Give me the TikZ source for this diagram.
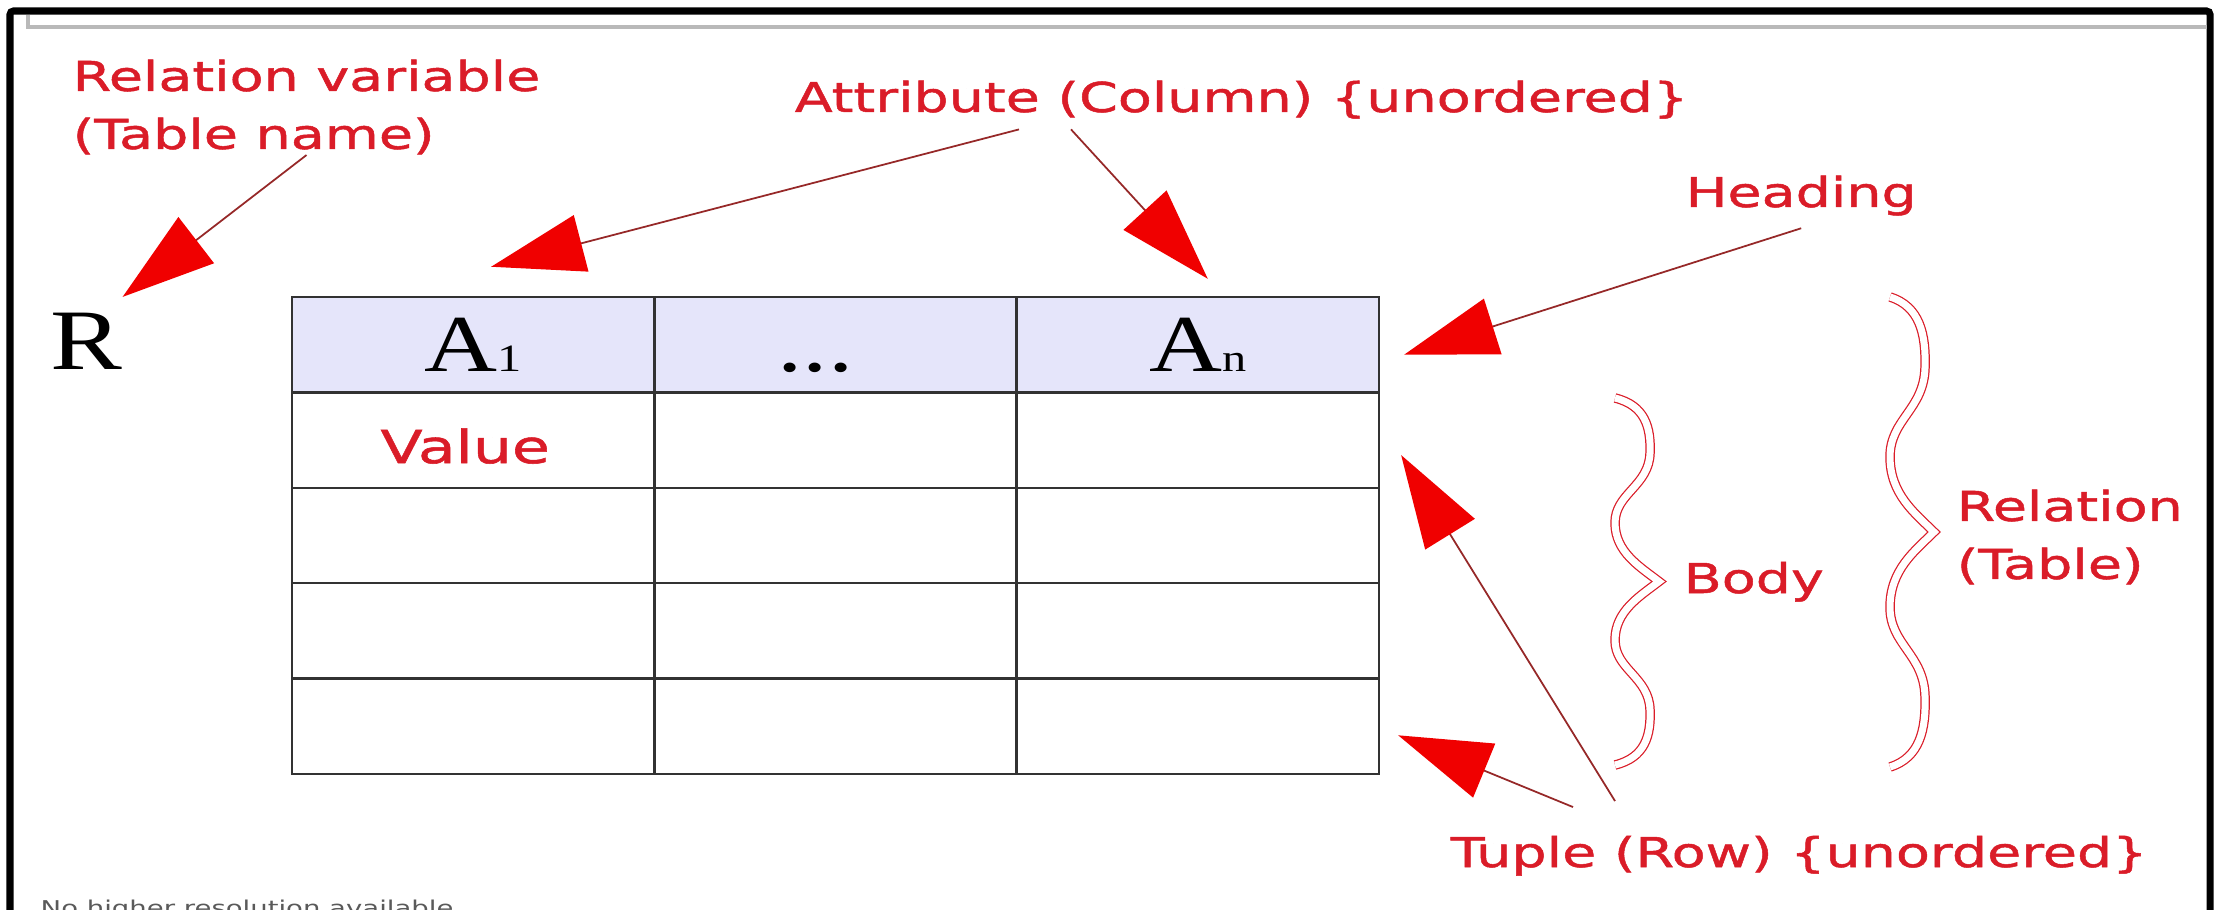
\documentclass[tikz,border=0pt]{standalone}
\usepackage{fontspec}
\setmainfont{Liberation Serif}[FakeStretch=1.25]
\newfontfamily\lblfont{DejaVu Sans}[FakeStretch=1.35,FakeBold=1.2]
\newfontfamily\notefont{DejaVu Sans}[FakeStretch=1.35]
\usepackage{tikz}
\usetikzlibrary{arrows.meta,calc}

\definecolor{lblred}{RGB}{218,28,40}
\definecolor{headred}{RGB}{240,0,0}
\definecolor{linered}{RGB}{150,40,40}
\definecolor{headfill}{RGB}{229,229,250}
\definecolor{gridgray}{RGB}{50,50,50}

\newcommand\attrname[1]{A{\fontsize{11}{11}\selectfont #1}}

\begin{document}
\begin{tikzpicture}[
  lbl/.style={text=lblred,font=\lblfont\fontsize{11.7}{16.5}\selectfont,inner sep=0pt},
  cell/.style={draw=gridgray,line width=0.7pt,minimum width=3.623cm,minimum height=0.954cm,inner sep=0pt},
  headcell/.style={cell,fill=headfill,font=\fontsize{23}{23}\selectfont,text height=0.54cm,text depth=0pt},
  callout/.style={draw=linered,line width=0.5pt,-{Triangle[length=9.3mm,width=5.8mm,color=headred]}},
  curlbrace/.style={draw=lblred,line width=0.35pt,double=white,double distance=2pt}
]
  \useasboundingbox (0,0) rectangle (22.21,9.09);
  \fill[white] (0,0) rectangle (22.21,9.09);

  % frame of the screenshot
  \draw[line width=2pt,rounded corners=1pt] (0.10,-0.2) -- (0.10,8.98) -- (22.10,8.98) -- (22.10,-0.2);
  \draw[gray!55,line width=1pt] (0.28,8.94) |- (22.07,8.82);

  % the table
  \foreach \c/\txt in {1/\attrname{1},2/{...\kern0.4cm},3/\attrname{n}}
    \node[headcell] (cell-0-\c) at ({2.92+3.623*(\c-0.5)},{6.12-0.954*0.5}) {\txt};
  \foreach \r in {1,...,4}
    \foreach \c in {1,2,3}
      \node[cell] (cell-\r-\c) at ({2.92+3.623*(\c-0.5)},{6.12-0.954*(\r+0.5)}) {};

  \node[font=\fontsize{24.5}{24.5}\selectfont,inner sep=0pt,anchor=base] (R) at (0.86,5.39) {R};
  \node[lbl,font=\lblfont\fontsize{13}{13}\selectfont,anchor=base] (value) at ($(cell-1-1)+(-0.08,-0.23)$) {Value};

  % labels
  \node[lbl,align=left,anchor=north west] (relvar) at (0.72,8.50) {Relation variable\\(Table name)};
  \node[lbl,anchor=base west] (attr) at (7.94,7.97) {Attribute (Column) \{unordered\}};
  \node[lbl,anchor=base west] (heading) at (16.85,7.02) {Heading};
  \node[lbl,anchor=base west] (body) at (16.83,3.16) {Body};
  \node[lbl,align=left,anchor=north west] (reltab) at (19.56,4.20) {Relation\\(Table)};
  \node[lbl,anchor=base west] (tuple) at (14.50,0.42) {Tuple (Row) \{unordered\}};
  \node[anchor=base west,inner sep=0pt,text={rgb,255:red,90;green,90;blue,90},
    font=\notefont\fontsize{5.8}{6}\selectfont] (note) at (0.40,-0.06) {No higher resolution available.};

  % braces
  \foreach \bx/\by/\bh in {16.15/5.11/3.67, 18.90/6.12/4.70}
    \draw[curlbrace] (\bx,\by)
      .. controls ({\bx+0.30},{\by-0.02*\bh}) and ({\bx+0.36},{\by-0.08*\bh}) .. ({\bx+0.35},{\by-0.15*\bh})
      .. controls ({\bx+0.34},{\by-0.24*\bh}) and (\bx,{\by-0.26*\bh}) .. (\bx,{\by-0.34*\bh})
      .. controls (\bx,{\by-0.42*\bh}) and ({\bx+0.25},{\by-0.46*\bh}) .. ({\bx+0.44},{\by-0.5*\bh})
      .. controls ({\bx+0.25},{\by-0.54*\bh}) and (\bx,{\by-0.58*\bh}) .. (\bx,{\by-0.66*\bh})
      .. controls (\bx,{\by-0.74*\bh}) and ({\bx+0.34},{\by-0.76*\bh}) .. ({\bx+0.35},{\by-0.85*\bh})
      .. controls ({\bx+0.36},{\by-0.92*\bh}) and ({\bx+0.30},{\by-0.98*\bh}) .. (\bx,{\by-\bh});

  % arrows
  \draw[callout] (relvar.south) -- ($(R.north east)+(0,0.16)$);
  \draw[callout] ($(attr.south west)+(2.25,-0.1)$) -- ($(cell-0-1.north)+(0.18,0.29)$);
  \draw[callout] ($(attr.south west)+(2.77,-0.1)$) -- ($(cell-0-3.north)+(0.10,0.17)$);
  \draw[callout] ($(heading.south)+(0,-0.12)$) -- ($(cell-0-3.east)+(0.24,-0.10)$);
  \draw[callout] ($(tuple.north west)+(1.65,0.34)$) -- ($(cell-1-3.east)+(0.21,-0.15)$);
  \draw[callout] ($(tuple.north west)+(1.23,0.28)$) -- ($(cell-4-3.east)+(0.18,-0.09)$);
\end{tikzpicture}
\end{document}
